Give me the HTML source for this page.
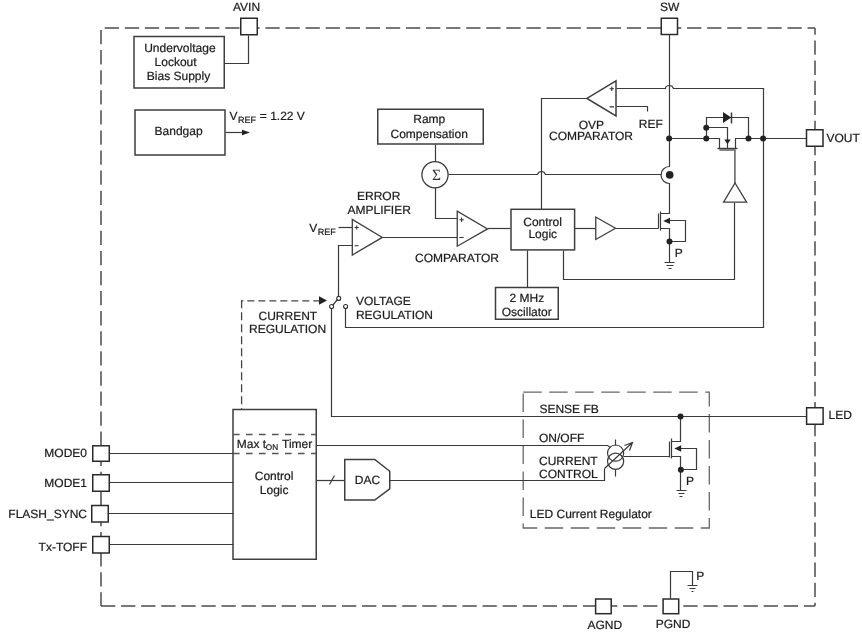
<!DOCTYPE html>
<html><head><meta charset="utf-8">
<style>
html,body{margin:0;padding:0;background:#fff;width:862px;height:633px;overflow:hidden}
svg{display:block;will-change:transform}
text{font-family:"Liberation Sans",sans-serif;font-size:12px;fill:#1c1c1c;stroke:#1c1c1c;stroke-width:0.22;text-rendering:geometricPrecision}
.w{stroke:#3a3a3a;stroke-width:1.2;fill:none}
.b{stroke:#3e3e3e;stroke-width:1.5;fill:none}
.pin{stroke:#2a2a2a;stroke-width:1.5;fill:#fff}
.d{stroke:#4c4c4c;stroke-width:1.5;fill:none;stroke-dasharray:14.3 5.78}
.d2{stroke:#666;stroke-width:1.3;fill:none;stroke-dasharray:18.5 7.5}
.dt{fill:#222;stroke:none}
.sg{stroke:#333;stroke-width:1.1;fill:none}
.s{font-size:9px}
.p{font-size:11.3px;stroke-width:0.35}
</style></head><body>
<svg width="862" height="633" viewBox="0 0 862 633">
<!-- main dashed border -->
<line class="d" x1="101" y1="28" x2="815" y2="28" stroke-dashoffset="16.33"/>
<line class="d" x1="101" y1="606" x2="815" y2="606"/>
<line class="d" x1="101" y1="28" x2="101" y2="606" stroke-dashoffset="18.08"/>
<line class="d" x1="815" y1="28" x2="815" y2="606" stroke-dashoffset="7.58"/>

<!-- LED current regulator dashed box -->
<path class="d2" d="M523.2 392.2 H709.3 V528 H523.2 Z"/>

<!-- UVLO -->
<rect class="b" x="134" y="36.5" width="90.25" height="51.5"/>
<text x="144.2" y="51.9">Undervoltage</text>
<text x="154.6" y="65.6">Lockout</text>
<text x="146.8" y="80">Bias Supply</text>
<path class="w" d="M248.5 35.5 V63.5 H224.5"/>

<!-- Bandgap -->
<rect class="b" x="135" y="110" width="90" height="45"/>
<text x="154.6" y="134.6">Bandgap</text>
<path class="w" d="M225.5 132.5 H243.5"/>
<path class="dt" d="M242 129.8 L250 132.5 L242 135.3 Z"/>
<text x="229.5" y="119.75">V</text><text class="s" x="237.9" y="122.5">REF</text><text x="259.8" y="119.75">= 1.22 V</text>

<!-- Ramp compensation -->
<rect class="b" x="377.75" y="109.25" width="105.5" height="34.75"/>
<text x="413.25" y="123">Ramp</text>
<text x="390.5" y="137.75">Compensation</text>
<path class="w" d="M435.5 144.5 V161.5"/>

<!-- Sigma -->
<circle class="w" cx="435" cy="174.8" r="13.1" style="stroke-width:1.3"/>
<text x="436.5" y="180.2" text-anchor="middle" style="font-family:'Liberation Serif',serif;font-size:15.5px;stroke:none;fill:#333">&#931;</text>
<path class="w" d="M448.5 174.5 H537.5 Q538.5 171.5 541.5 171.5 Q544.5 171.5 545.5 174.5 H661.5"/>
<path class="w" d="M435.5 187.5 V218.5 H457.5"/>

<!-- OVP comparator -->
<path class="b" d="M616 80.9 V115.9 L586.9 98.4 Z"/>
<path class="sg" d="M609.6 88.75 H614 M611.8 86.6 V90.9 M609.6 106.9 H614"/>
<path class="w" d="M586.5 98.5 H541.5 V209.5"/>
<path class="w" d="M616.5 88.5 H665.5 Q665.5 85.5 669.5 85.5 Q672.5 85.5 673.5 88.5 H763.5 V327.5 H345.5 V308.5"/>
<path class="w" d="M616.5 106.5 H647.5 V111.5"/>
<text x="578.75" y="129.1">OVP</text>
<text x="549" y="140">COMPARATOR</text>
<text x="638.75" y="127.5">REF</text>

<!-- SW line -->
<path class="w" d="M669.5 34.5 V166.5 A8.3 8.3 0 0 0 669.5 183.5 V213.5 H660.5"/>
<circle class="dt" cx="669.7" cy="174.9" r="3.8"/>

<!-- main VOUT line and PMOS -->
<path class="w" d="M669.5 138.5 H719.5 V148.5"/>
<path class="w" d="M735.5 148.5 V138.5 H806.5"/>
<path class="w" d="M706.5 138.5 V117.5 H748.5 V138.5"/>
<path class="dt" d="M723 112 V123 L731.25 117.5 Z"/>
<path class="w" d="M731.5 112.5 V123.5" style="stroke-width:1.5"/>
<path class="w" d="M706.5 127.5 H727.5 V148.5"/>
<path class="dt" d="M724.3 139.4 H730.7 L727.5 144.2 Z"/>
<path class="w" d="M717.5 148.5 H737.5" style="stroke-width:1.4"/>
<path d="M719.4 150 H735.6" style="stroke:#777;stroke-width:1.8"/>
<path d="M734.9 150 V183" style="stroke:#707070;stroke-width:1.7;fill:none"/>
<circle class="dt" cx="669.1" cy="138.5" r="3"/>
<circle class="dt" cx="706.25" cy="138.5" r="3"/>
<circle class="dt" cx="706.25" cy="127.75" r="3"/>
<circle class="dt" cx="748.5" cy="138.5" r="3"/>
<circle class="dt" cx="763.1" cy="138.5" r="3"/>

<!-- up buffer -->
<path class="b" d="M723.6 202.1 H746.6 L735 183 Z" style="stroke-width:1.3"/>
<path class="w" d="M734.5 202.5 V279.5 H563.5 V250.5"/>

<!-- comparator -->
<path class="b" d="M457.25 211.25 V246.25 L487.5 228.9 Z" style="stroke-width:1.3"/>
<path class="sg" d="M459.4 219.7 H463.8 M461.6 217.5 V221.9 M459.4 237.5 H463.6"/>
<path class="w" d="M487.5 228.5 H510.5"/>
<text x="415" y="261.8">COMPARATOR</text>

<!-- control logic upper -->
<rect class="b" x="511" y="209.3" width="63.6" height="40.6"/>
<text x="523.25" y="225.5">Control</text>
<text x="528.4" y="237.5">Logic</text>
<path class="w" d="M574.5 228.5 H595.5"/>
<path class="b" d="M595.75 217 V239.5 L615.5 228.25 Z" style="stroke-width:1.3"/>
<path class="w" d="M615.5 228.5 H658.5"/>
<path class="w" d="M527.5 250.5 V287.5"/>

<!-- NMOS upper -->
<path class="w" d="M658.5 213.5 V228.5"/>
<path class="w" d="M660.5 211.5 V230.5"/>
<path class="w" d="M660.5 228.5 H669.5 V262.5"/>
<path class="w" d="M669.5 220.5 H685.5 V241.5 H669.5"/>
<path class="dt" d="M663.2 220.9 L670 217.8 V224 Z"/>
<circle class="dt" cx="669.5" cy="241.5" r="3"/>
<path class="w" d="M664.5 262.5 H674.5 M666.5 265.5 H673.5 M668.5 268.5 H671.5"/>
<text x="674.75" y="257.3">P</text>

<!-- oscillator -->
<rect class="b" x="495.5" y="287.5" width="62.75" height="31.75"/>
<text x="509.5" y="302.2">2 MHz</text>
<text x="501.75" y="315.8">Oscillator</text>

<!-- error amplifier -->
<path class="b" d="M352.3 219.5 V255 L382.3 237.4 Z" style="stroke-width:1.3"/>
<path class="sg" d="M354.6 227.5 H358.8 M356.7 225.4 V229.6 M354.6 245.7 H358.6"/>
<path class="w" d="M382.5 237.5 H457.5"/>
<path class="w" d="M338.5 227.5 H352.5"/>
<path class="w" d="M352.5 245.5 H338.5 V296.5"/>
<text x="357" y="200">ERROR</text>
<text x="347.5" y="213.75">AMPLIFIER</text>
<text x="309.25" y="232">V</text><text class="s" x="317.7" y="235">REF</text>

<!-- switch -->
<circle cx="338.75" cy="298.4" r="2" style="fill:#fff;stroke:#333;stroke-width:1.1"/>
<circle cx="331.6" cy="306.5" r="2" style="fill:#fff;stroke:#333;stroke-width:1.1"/>
<circle cx="345.6" cy="306.5" r="2" style="fill:#fff;stroke:#333;stroke-width:1.1"/>
<path class="w" d="M337.5 299.5 L332.5 305.5"/>
<path class="w" d="M331.5 308.5 V416.5 H806.5"/>
<text x="355.9" y="305.1">VOLTAGE</text>
<text x="355.9" y="318.6">REGULATION</text>

<!-- current regulation dashed -->
<path d="M241.6 300.8 H320" style="stroke:#444;stroke-width:1.3;fill:none;stroke-dasharray:7 4;stroke-dashoffset:5.3"/>
<path d="M241.6 300.2 V409.5" style="stroke:#444;stroke-width:1.3;fill:none;stroke-dasharray:8 4"/>
<path class="dt" d="M319 296.3 L327 300.6 L319 304.8 Z"/>
<text x="258.5" y="320">CURRENT</text>
<text x="249" y="332.5">REGULATION</text>

<!-- control logic lower -->
<rect class="b" x="233" y="409.5" width="83.25" height="149.75" style="fill:#fff"/>
<path d="M233 434.5 H316.25 M233 453.5 H316.25" style="stroke:#555;stroke-width:1.3;fill:none;stroke-dasharray:6.6 6.4"/>
<text x="236.75" y="447.8">Max t</text><text class="s" x="265.8" y="450.4" style="font-size:8.2px">ON</text><text x="282" y="447.8">Timer</text>
<text x="254.75" y="479.5">Control</text>
<text x="259.8" y="493.7">Logic</text>

<!-- left pins wires -->
<path class="w" d="M109.5 453.5 H233.5 M109.5 482.5 H233.5 M108.5 513.5 H233.5 M109.5 544.5 H233.5"/>

<!-- ON/OFF -->
<path class="w" d="M316.5 445.5 H607.5 L610.5 447.5"/>
<!-- DAC -->
<path class="w" d="M316.5 480.5 H344.5"/>
<path class="w" d="M329.5 484.5 L334.5 475.5"/>
<path class="b" d="M344.75 459.5 H374.75 L389.75 471.25 V488.75 L374.75 500 H344.75 Z"/>
<text x="354.75" y="483.75">DAC</text>
<path class="w" d="M389.5 480.5 H604.5 V468.5"/>

<!-- current source -->
<circle class="w" cx="615.6" cy="453.1" r="8.1"/>
<circle class="w" cx="615.6" cy="461.25" r="8.1"/>
<path class="w" d="M615.5 439.5 V445.5 M615.5 469.5 V476.5"/>
<path class="w" d="M604.5 468.5 L632.5 442.5 M624.5 445.5 L632.5 442.5 L629.5 450.5"/>
<path class="w" d="M623.5 456.5 H669.5"/>
<text x="539" y="442">ON/OFF</text>
<text x="539" y="465">CURRENT</text>
<text x="539" y="477.5">CONTROL</text>
<text x="539.4" y="412.5">SENSE FB</text>
<text x="529.8" y="517.6">LED Current Regulator</text>

<!-- NMOS lower -->
<path class="w" d="M669.5 441.5 V457.5"/>
<path class="w" d="M671.5 438.5 V458.5"/>
<path class="w" d="M671.5 441.5 H680.5 V415.5"/>
<path class="w" d="M671.5 456.5 H680.5 V490.5"/>
<path class="w" d="M680.5 448.5 H696.5 V469.5 H680.5"/>
<path class="dt" d="M674.3 448.5 L681.2 445.3 V451.7 Z"/>
<circle class="dt" cx="680.9" cy="469.75" r="3"/>
<circle class="dt" cx="680.5" cy="416.5" r="3"/>
<path class="w" d="M676.5 490.5 H686.5 M678.5 493.5 H684.5 M679.5 496.5 H682.5"/>
<text x="686" y="485.4">P</text>

<!-- PGND ground -->
<path class="w" d="M670.5 598.5 V571.5 H692.5 V585.5"/>
<path class="w" d="M687.5 585.5 H697.5 M689.5 588.5 H695.5 M691.5 591.5 H693.5"/>
<text x="696.25" y="579.5">P</text>

<!-- pins -->
<rect class="pin" x="240.75" y="18.25" width="16.5" height="16.5"/>
<rect class="pin" x="661.25" y="18.25" width="16.25" height="16.25"/>
<rect class="pin" x="806.5" y="129.75" width="16.5" height="16.5"/>
<rect class="pin" x="806.6" y="407.75" width="16.5" height="16.5"/>
<rect class="pin" x="92.75" y="445.8" width="16.5" height="15.45"/>
<rect class="pin" x="92.75" y="474.75" width="16.5" height="16.5"/>
<rect class="pin" x="91.75" y="505.5" width="16.5" height="16.5"/>
<rect class="pin" x="92.75" y="536.5" width="16.5" height="16.5"/>
<rect class="pin" x="595.6" y="599" width="15.6" height="14.7"/>
<rect class="pin" x="663.1" y="599" width="15.6" height="14.7"/>

<text x="233" y="11">AVIN</text>
<text x="660" y="11">SW</text>
<text x="826.5" y="141.75">VOUT</text>
<text x="828.6" y="419.2">LED</text>
<text x="87" y="457" text-anchor="end">MODE0</text>
<text x="87" y="487" text-anchor="end">MODE1</text>
<text x="87" y="517.5" text-anchor="end">FLASH_SYNC</text>
<text x="87" y="550.5" text-anchor="end">Tx-TOFF</text>
<text x="587.5" y="628.6">AGND</text>
<text x="655.75" y="627.6">PGND</text>
</svg>
</body></html>
